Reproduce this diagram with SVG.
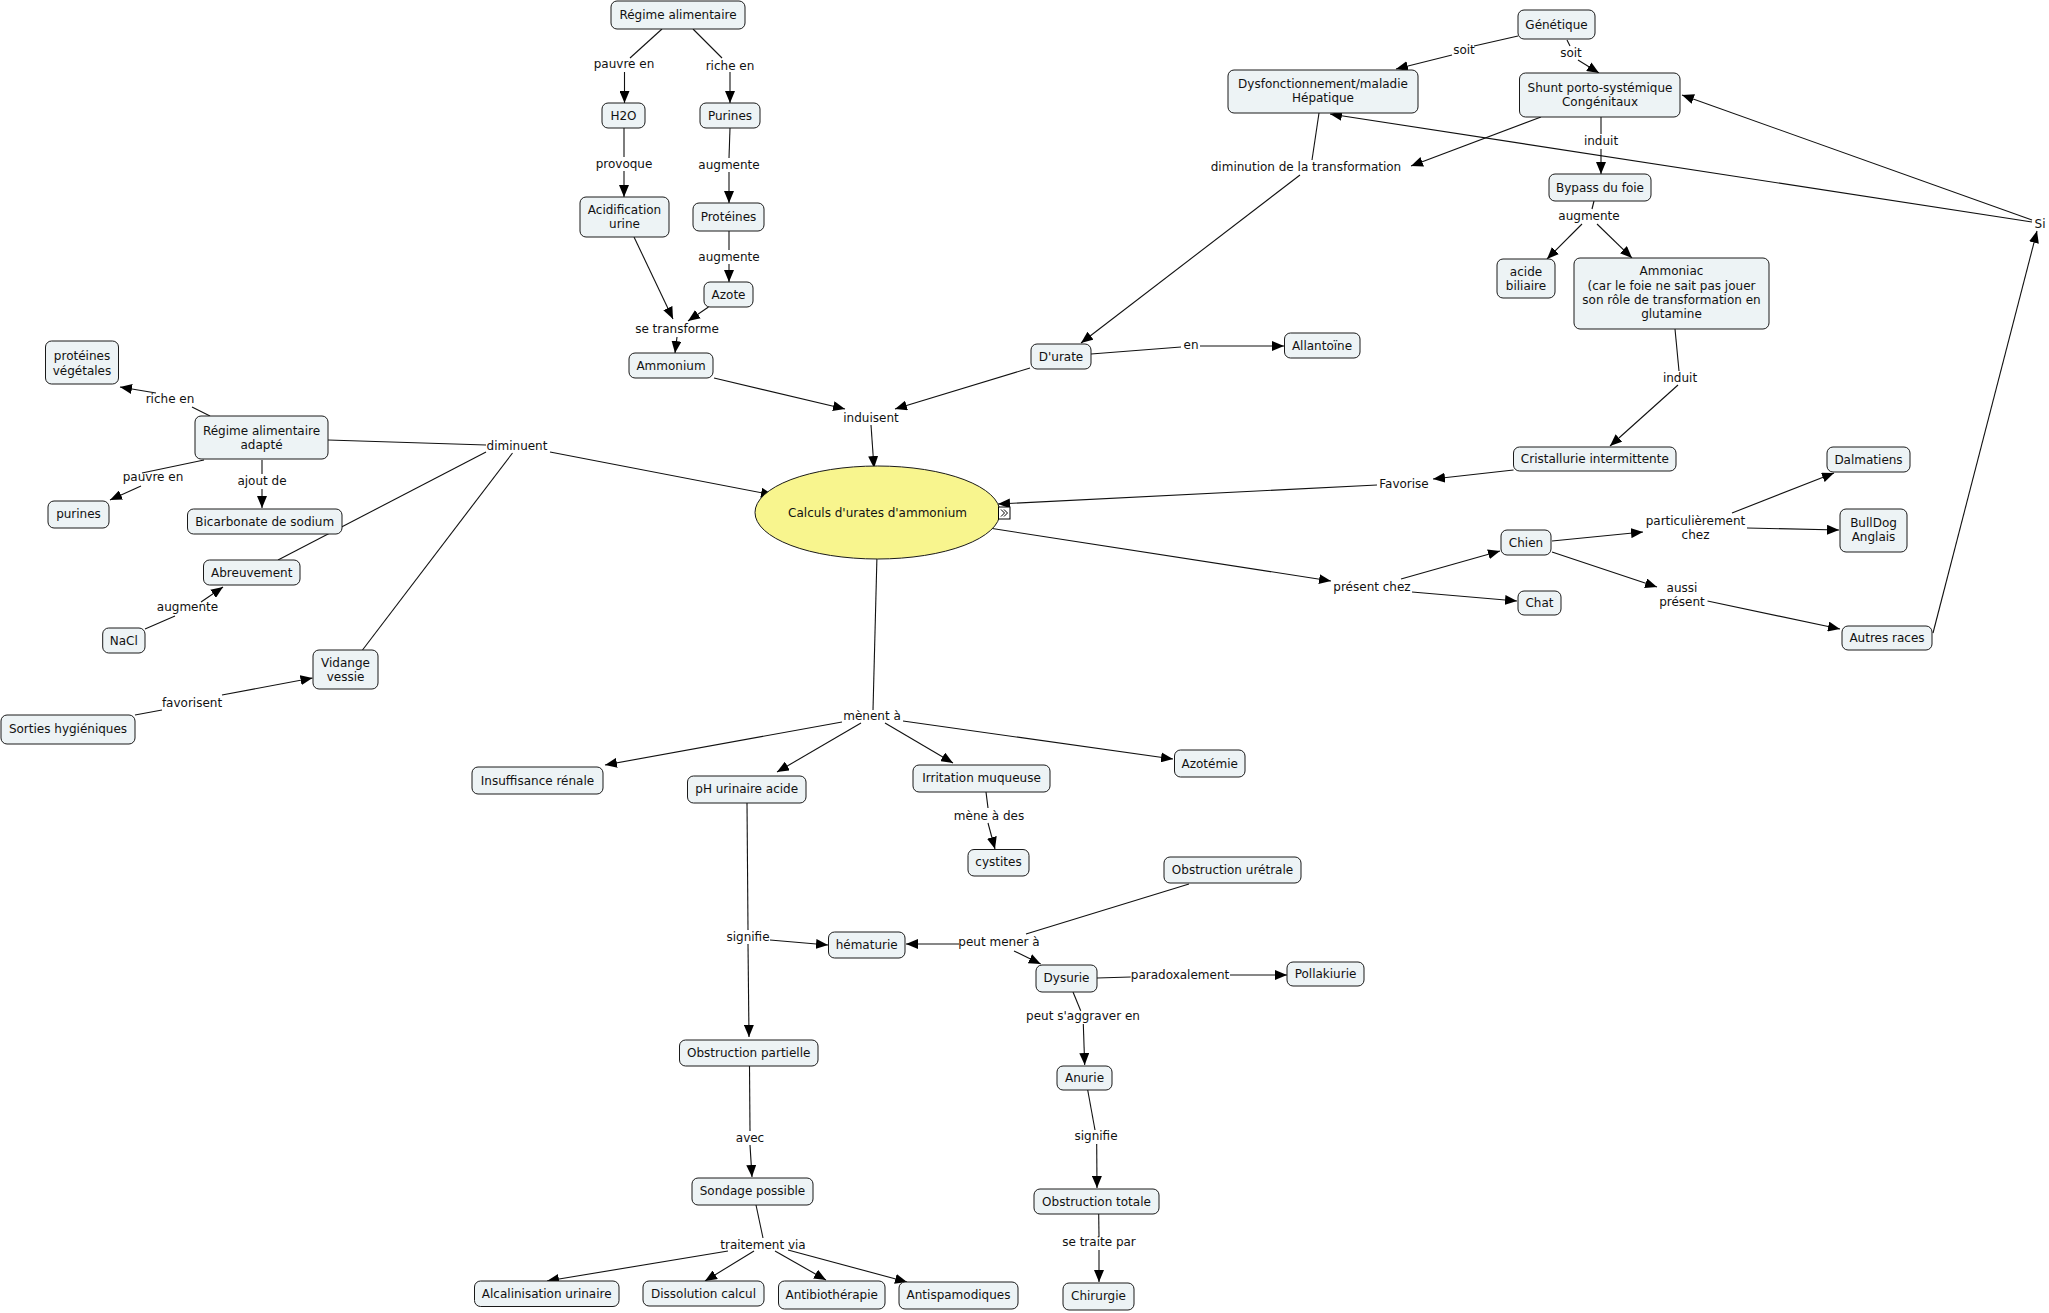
<svg xmlns="http://www.w3.org/2000/svg" width="2049" height="1313" viewBox="0 0 2049 1313">
<defs>
<marker id="ah" markerWidth="12" markerHeight="10" refX="12" refY="5" orient="auto" markerUnits="userSpaceOnUse"><path d="M0,0 L12,5 L0,10 z" fill="#000"/></marker>
<style>
.n rect{fill:#edf3f5;stroke:#1a1a1a;stroke-width:1}
.n ellipse{fill:#f8f58e;stroke:#1a1a1a;stroke-width:1}
text{font-family:"DejaVu Sans",Verdana,sans-serif;font-size:12px;fill:#111;text-anchor:middle}
#connectors line{stroke:#111;stroke-width:1.1;fill:none}
#connectors line.a{marker-end:url(#ah)}
</style>
</defs>
<rect width="2049" height="1313" fill="#fff"/>
<g id="connectors">
<line x1="662" y1="29" x2="630" y2="58"/><line class="a" x1="624.5" y1="72" x2="624.5" y2="103"/>
<line x1="693" y1="29" x2="722" y2="58"/><line class="a" x1="730" y1="72" x2="730" y2="103"/>
<line x1="624" y1="128" x2="624" y2="157"/><line class="a" x1="624" y1="171" x2="624" y2="197"/>
<line x1="730" y1="128" x2="729" y2="158"/><line class="a" x1="729" y1="172" x2="729" y2="203"/>
<line x1="729" y1="231" x2="729" y2="250"/><line class="a" x1="729" y1="264" x2="729" y2="282"/>
<line class="a" x1="634" y1="237" x2="673" y2="319"/>
<line class="a" x1="708.5" y1="307" x2="688" y2="321"/>
<line class="a" x1="677" y1="337" x2="675" y2="353"/>
<line class="a" x1="714" y1="378" x2="845" y2="409"/>
<line class="a" x1="1030" y1="368" x2="895" y2="409"/>
<line class="a" x1="871" y1="425" x2="874" y2="468"/>
<line x1="1091" y1="354" x2="1181" y2="347"/><line class="a" x1="1200" y1="346" x2="1284" y2="346"/>
<line x1="1319" y1="113" x2="1312" y2="160"/><line class="a" x1="1300" y1="175" x2="1081" y2="343"/>
<line class="a" x1="1541" y1="117" x2="1411" y2="166"/>
<line x1="1518" y1="36" x2="1474" y2="46"/><line class="a" x1="1452" y1="55" x2="1396" y2="69"/>
<line x1="1567" y1="40" x2="1570" y2="46"/><line class="a" x1="1578" y1="60" x2="1599" y2="73"/>
<line x1="1601" y1="117" x2="1601" y2="134"/><line class="a" x1="1601" y1="149" x2="1601" y2="174"/>
<line x1="1594" y1="201" x2="1592" y2="209"/><line class="a" x1="1582" y1="224" x2="1547" y2="259"/><line class="a" x1="1597" y1="224" x2="1632" y2="258"/>
<line x1="1675" y1="329" x2="1679" y2="371"/><line class="a" x1="1678" y1="385" x2="1610" y2="446"/>
<line class="a" x1="2032" y1="222" x2="1330" y2="114"/>
<line class="a" x1="2032" y1="220" x2="1682" y2="95"/>
<line class="a" x1="1933" y1="633" x2="2037" y2="231"/>
<line class="a" x1="1513.5" y1="470" x2="1433" y2="479"/>
<line class="a" x1="1377" y1="485" x2="998" y2="504"/>
<line class="a" x1="989" y1="528" x2="1331" y2="581"/>
<line class="a" x1="1401" y1="579" x2="1500" y2="551"/>
<line class="a" x1="1412" y1="592" x2="1517" y2="601"/>
<line class="a" x1="1552" y1="541" x2="1643" y2="532"/>
<line class="a" x1="1732" y1="513" x2="1834" y2="473"/>
<line class="a" x1="1747" y1="528" x2="1839" y2="530"/>
<line class="a" x1="1552" y1="552" x2="1657" y2="587"/>
<line class="a" x1="1707.5" y1="601" x2="1840" y2="629"/>
<line x1="210" y1="416" x2="192" y2="407"/><line class="a" x1="156" y1="393" x2="120" y2="387"/>
<line x1="204" y1="460" x2="142" y2="473"/><line class="a" x1="141" y1="486" x2="110" y2="500"/>
<line x1="262" y1="460" x2="262" y2="474"/><line class="a" x1="262" y1="489" x2="262" y2="508"/>
<line x1="328" y1="440" x2="486" y2="445"/>
<line x1="486" y1="452" x2="278" y2="560"/>
<line x1="512.5" y1="453" x2="362.5" y2="650"/>
<line class="a" x1="550" y1="452" x2="773" y2="495"/>
<line x1="145" y1="629" x2="175" y2="616"/><line class="a" x1="201" y1="602" x2="223" y2="587"/>
<line x1="135" y1="715" x2="162" y2="710"/><line class="a" x1="222" y1="695" x2="312.5" y2="678"/>
<line x1="877" y1="555" x2="873" y2="710"/>
<line class="a" x1="842" y1="722" x2="605" y2="765"/>
<line class="a" x1="861" y1="723" x2="777" y2="772"/>
<line class="a" x1="885" y1="723" x2="953" y2="763"/>
<line class="a" x1="903" y1="721" x2="1173" y2="759"/>
<line x1="986" y1="792" x2="988" y2="808"/><line class="a" x1="988" y1="823" x2="995" y2="849"/>
<line x1="747" y1="803" x2="748" y2="930"/><line class="a" x1="748" y1="944" x2="749" y2="1037"/><line class="a" x1="770" y1="940" x2="828" y2="945"/>
<line class="a" x1="959" y1="944" x2="906" y2="944"/>
<line x1="1189" y1="884" x2="1026" y2="934"/>
<line class="a" x1="1014" y1="951" x2="1040.7" y2="964"/>
<line x1="1097" y1="978" x2="1130.7" y2="977"/><line class="a" x1="1230" y1="975" x2="1287" y2="975"/>
<line x1="1073" y1="992" x2="1080.7" y2="1010.7"/><line class="a" x1="1083.3" y1="1024" x2="1084.7" y2="1065"/>
<line x1="1087.7" y1="1090" x2="1095" y2="1130"/><line class="a" x1="1096.7" y1="1144" x2="1097" y2="1188"/>
<line x1="1098.7" y1="1214" x2="1099" y2="1236.7"/><line class="a" x1="1099" y1="1250" x2="1099" y2="1282"/>
<line x1="749.5" y1="1066" x2="750" y2="1131"/><line class="a" x1="750" y1="1145" x2="752" y2="1177"/>
<line x1="756" y1="1205" x2="763" y2="1238"/>
<line class="a" x1="728" y1="1251" x2="547" y2="1281"/>
<line class="a" x1="754" y1="1251" x2="705" y2="1281"/>
<line class="a" x1="775" y1="1251" x2="826" y2="1280"/>
<line class="a" x1="788" y1="1250" x2="907" y2="1282"/>
</g>
<g id="labels">
<text x="624" y="68">pauvre en</text>
<text x="730" y="70">riche en</text>
<text x="624" y="168">provoque</text>
<text x="729" y="169">augmente</text>
<text x="729" y="261">augmente</text>
<text x="677" y="333">se transforme</text>
<text x="871" y="422">induisent</text>
<text x="1191" y="349">en</text>
<text x="1306" y="171">diminution de la transformation</text>
<text x="1464" y="54">soit</text>
<text x="1571" y="57">soit</text>
<text x="1601" y="145">induit</text>
<text x="1589" y="220">augmente</text>
<text x="1680" y="382">induit</text>
<text x="2040" y="228">Si</text>
<text x="1404" y="488">Favorise</text>
<text x="1372" y="591">présent chez</text>
<text x="1695.5" y="525">particulièrement</text>
<text x="1695.5" y="539">chez</text>
<text x="1682" y="592">aussi</text>
<text x="1682" y="606">présent</text>
<text x="170" y="403">riche en</text>
<text x="517" y="450">diminuent</text>
<text x="153" y="481">pauvre en</text>
<text x="262" y="485">ajout de</text>
<text x="187.5" y="611">augmente</text>
<text x="192" y="707">favorisent</text>
<text x="872" y="720">mènent à</text>
<text x="989" y="820">mène à des</text>
<text x="748" y="941">signifie</text>
<text x="999" y="946">peut mener à</text>
<text x="1180" y="979">paradoxalement</text>
<text x="1083" y="1020">peut s'aggraver en</text>
<text x="1096" y="1140">signifie</text>
<text x="750" y="1142">avec</text>
<text x="1099" y="1246">se traite par</text>
<text x="763" y="1249">traitement via</text>
</g>
<g id="n_regime" class="n"><rect x="611" y="1" width="134" height="28" rx="6"/><text x="678" y="19">Régime alimentaire</text></g>
<g id="n_h2o" class="n"><rect x="602" y="103" width="43" height="25" rx="6"/><text x="623.5" y="120">H2O</text></g>
<g id="n_purines" class="n"><rect x="700" y="103" width="60" height="25" rx="6"/><text x="730" y="120">Purines</text></g>
<g id="n_acidif" class="n"><rect x="580" y="197" width="89" height="40" rx="6"/><text x="624.5" y="214">Acidification</text><text x="624.5" y="228">urine</text></g>
<g id="n_proteines" class="n"><rect x="693" y="203" width="71" height="28" rx="6"/><text x="728.5" y="221">Protéines</text></g>
<g id="n_azote" class="n"><rect x="704" y="282" width="49" height="25" rx="6"/><text x="728.5" y="299">Azote</text></g>
<g id="n_ammonium" class="n"><rect x="629" y="353" width="84" height="25" rx="6"/><text x="671" y="370">Ammonium</text></g>
<g id="n_durate" class="n"><rect x="1031" y="344" width="60" height="25" rx="6"/><text x="1061" y="361">D'urate</text></g>
<g id="n_allantoine" class="n"><rect x="1284.5" y="333" width="75.5" height="25" rx="6"/><text x="1322" y="350">Allantoïne</text></g>
<g id="n_genetique" class="n"><rect x="1518" y="10" width="77" height="29" rx="6"/><text x="1556.5" y="29">Génétique</text></g>
<g id="n_dysf" class="n"><rect x="1228" y="70" width="190" height="43" rx="6"/><text x="1323" y="88">Dysfonctionnement/maladie</text><text x="1323" y="102">Hépatique</text></g>
<g id="n_shunt" class="n"><rect x="1519.5" y="73" width="160.5" height="44" rx="6"/><text x="1600" y="92">Shunt porto-systémique</text><text x="1600" y="106">Congénitaux</text></g>
<g id="n_bypass" class="n"><rect x="1549" y="174" width="102" height="27" rx="6"/><text x="1600" y="191.5">Bypass du foie</text></g>
<g id="n_acide" class="n"><rect x="1497" y="259" width="58" height="39" rx="6"/><text x="1526" y="276">acide</text><text x="1526" y="290">biliaire</text></g>
<g id="n_ammoniac" class="n"><rect x="1574" y="258" width="195" height="71" rx="6"/><text x="1671.5" y="275">Ammoniac</text><text x="1671.5" y="290">(car le foie ne sait pas jouer</text><text x="1671.5" y="304">son rôle de transformation en</text><text x="1671.5" y="318">glutamine</text></g>
<g id="n_cristal" class="n"><rect x="1513.5" y="447" width="162.5" height="24" rx="6"/><text x="1594.8" y="463">Cristallurie intermittente</text></g>
<g id="n_dalmatiens" class="n"><rect x="1827" y="447" width="83" height="25" rx="6"/><text x="1868.5" y="464">Dalmatiens</text></g>
<g id="n_bulldog" class="n"><rect x="1840" y="509" width="67" height="43" rx="6"/><text x="1873.5" y="527">BullDog</text><text x="1873.5" y="541">Anglais</text></g>
<g id="n_chien" class="n"><rect x="1501" y="530" width="50" height="25" rx="6"/><text x="1526" y="547">Chien</text></g>
<g id="n_chat" class="n"><rect x="1518" y="591" width="43" height="24" rx="6"/><text x="1539.5" y="607">Chat</text></g>
<g id="n_autres" class="n"><rect x="1842" y="626" width="90" height="24" rx="6"/><text x="1887" y="642">Autres races</text></g>
<g id="n_calculs" class="n"><ellipse cx="877.5" cy="512.5" rx="122.5" ry="46.5"/><text x="877.5" y="517">Calculs d'urates d'ammonium</text>
<rect x="998.5" y="507" width="11.5" height="12" rx="0" style="fill:#fff;stroke:#000"/><path d="M1001,509.5 L1004.5,513 L1001,516.5 M1004,509.5 L1007.5,513 L1004,516.5" fill="none" stroke="#000" stroke-width="1"/></g>
<g id="n_protveg" class="n"><rect x="45.5" y="341" width="73" height="43" rx="6"/><text x="82" y="360">protéines</text><text x="82" y="375">végétales</text></g>
<g id="n_regime_adapte" class="n"><rect x="195" y="416" width="133" height="43" rx="6"/><text x="261.5" y="435">Régime alimentaire</text><text x="261.5" y="449">adapté</text></g>
<g id="n_purines2" class="n"><rect x="48" y="501" width="61" height="27" rx="6"/><text x="78.5" y="518">purines</text></g>
<g id="n_bicarb" class="n"><rect x="187.5" y="509" width="154.5" height="25" rx="6"/><text x="264.7" y="526">Bicarbonate de sodium</text></g>
<g id="n_abreuv" class="n"><rect x="203.5" y="560" width="96.5" height="25" rx="6"/><text x="251.7" y="577">Abreuvement</text></g>
<g id="n_nacl" class="n"><rect x="102.7" y="628" width="42.3" height="25" rx="6"/><text x="123.8" y="645">NaCl</text></g>
<g id="n_vidange" class="n"><rect x="313" y="650" width="65" height="39" rx="6"/><text x="345.5" y="667">Vidange</text><text x="345.5" y="681">vessie</text></g>
<g id="n_sorties" class="n"><rect x="1" y="715" width="134" height="29" rx="6"/><text x="68" y="733">Sorties hygiéniques</text></g>
<g id="n_insuff" class="n"><rect x="472" y="767" width="131" height="27" rx="6"/><text x="537.5" y="785">Insuffisance rénale</text></g>
<g id="n_ph" class="n"><rect x="687.5" y="776" width="118.5" height="27" rx="6"/><text x="746.7" y="793">pH urinaire acide</text></g>
<g id="n_irrit" class="n"><rect x="913" y="765" width="137" height="27" rx="6"/><text x="981.5" y="782">Irritation muqueuse</text></g>
<g id="n_azotemie" class="n"><rect x="1174.5" y="750" width="70.5" height="27" rx="6"/><text x="1209.7" y="768">Azotémie</text></g>
<g id="n_cystites" class="n"><rect x="968" y="849.5" width="61" height="26.5" rx="6"/><text x="998.5" y="866">cystites</text></g>
<g id="n_obst_ure" class="n"><rect x="1164" y="857" width="137" height="26" rx="6"/><text x="1232.5" y="874">Obstruction urétrale</text></g>
<g id="n_hematurie" class="n"><rect x="828.5" y="932" width="76.5" height="26" rx="6"/><text x="866.7" y="949">hématurie</text></g>
<g id="n_dysurie" class="n"><rect x="1036" y="965" width="61" height="27" rx="6"/><text x="1066.5" y="982">Dysurie</text></g>
<g id="n_pollak" class="n"><rect x="1287" y="962" width="77" height="24" rx="6"/><text x="1325.5" y="978">Pollakiurie</text></g>
<g id="n_anurie" class="n"><rect x="1057" y="1066" width="55" height="24" rx="6"/><text x="1084.5" y="1082">Anurie</text></g>
<g id="n_obst_tot" class="n"><rect x="1034" y="1189" width="125" height="25" rx="6"/><text x="1096.5" y="1206">Obstruction totale</text></g>
<g id="n_chirurgie" class="n"><rect x="1063" y="1283" width="71" height="27" rx="6"/><text x="1098.5" y="1300">Chirurgie</text></g>
<g id="n_obst_part" class="n"><rect x="679.5" y="1040" width="138.5" height="26" rx="6"/><text x="748.7" y="1057">Obstruction partielle</text></g>
<g id="n_sondage" class="n"><rect x="692" y="1178" width="121" height="27" rx="6"/><text x="752.5" y="1195">Sondage possible</text></g>
<g id="n_alcal" class="n"><rect x="474.5" y="1281" width="144.5" height="25.5" rx="6"/><text x="546.7" y="1298">Alcalinisation urinaire</text></g>
<g id="n_dissol" class="n"><rect x="643" y="1281" width="121" height="25" rx="6"/><text x="703.5" y="1298">Dissolution calcul</text></g>
<g id="n_antibio" class="n"><rect x="778.5" y="1281" width="106.5" height="28" rx="6"/><text x="831.7" y="1299">Antibiothérapie</text></g>
<g id="n_antispa" class="n"><rect x="899" y="1282" width="119" height="27" rx="6"/><text x="958.5" y="1299">Antispamodiques</text></g>
</svg>
